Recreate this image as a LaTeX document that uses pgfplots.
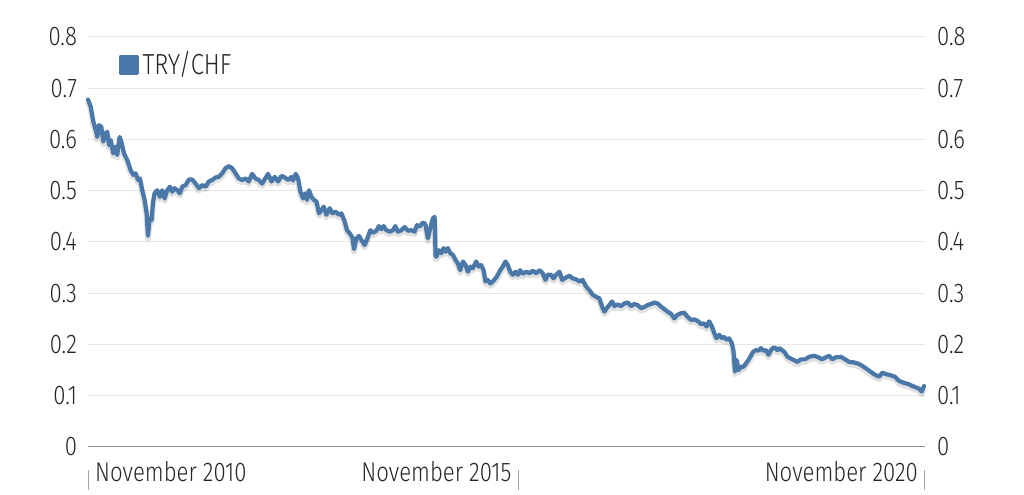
\documentclass[border=0pt]{standalone}
\usepackage{pgfplots}
\pgfplotsset{compat=1.18}
\usepackage{fontspec}
\setmainfont{Fira Sans}[UprightFont=* Light, FakeStretch=0.82]
\definecolor{trycol}{HTML}{4A78A9}
\definecolor{gridc}{HTML}{E6E6E6}
\definecolor{txt}{HTML}{262626}
\newcommand{\tickbar}{{\color{black!35}\rule[-4.5pt]{0.6pt}{10pt}}}
\begin{document}
\begin{tikzpicture}
\begin{axis}[
  scale only axis,
  width=418.5pt, height=205pt,
  xmin=0, xmax=838, ymin=0, ymax=0.8,
  axis x line*=bottom, axis y line*=left,
  x axis line style={draw=black!45, line width=0.5pt},
  y axis line style={draw=none},
  ytick={0,0.1,...,0.8},
  ymajorgrids, grid style={draw=gridc, line width=0.5pt},
  major tick length=0pt,
  xtick={0,432,838},
  xticklabels={\rlap{\tickbar\hspace{3pt}November 2010},\llap{November 2015\hspace{3.5pt}\tickbar},\llap{November 2020\hspace{3pt}\tickbar}},
  xticklabel style={anchor=north, inner sep=0pt, yshift=-7pt, text=txt, font=\fontsize{13.5}{15}\selectfont},
  yticklabel style={text=txt, font=\fontsize{13.5}{15}\selectfont, xshift=-2pt},
  /pgf/number format/.cd, fixed, precision=1, assume math mode=true,
  /pgfplots/.cd,
  legend style={at={(rel axis cs:0.036,0.975)}, anchor=north west, draw=none, fill=none, font=\fontsize{14.5}{16}\selectfont, text=txt, inner sep=0pt},
  legend image code/.code={\fill[trycol] (0pt,-4pt) rectangle (8pt,4pt);},
  clip=false,
]
\pgfplotstableread{
x y
0 0.678
2.7 0.664
5.3 0.635
7.7 0.619
9.3 0.605
11 0.628
13.3 0.625
15.3 0.596
17.7 0.612
19.3 0.615
21 0.589
22.7 0.599
25.3 0.573
27.7 0.586
29.3 0.570
31.7 0.605
33.7 0.593
36 0.573
39.3 0.560
42.7 0.540
45.3 0.531
47.7 0.534
50 0.521
52 0.524
54.3 0.501
56.7 0.482
58.7 0.456
60 0.412
61.7 0.446
63.7 0.443
65 0.476
66.7 0.495
69.3 0.501
72 0.488
74.3 0.501
76.7 0.485
79.3 0.501
82 0.508
84.3 0.498
86.7 0.505
89.3 0.501
92 0.495
94.3 0.508
97.7 0.511
101 0.522
104.3 0.522
107.7 0.514
111 0.505
114.3 0.511
117.7 0.508
121 0.518
124.3 0.521
127.7 0.526
131 0.527
134.3 0.534
137.7 0.544
141 0.548
144.3 0.544
147.7 0.534
151 0.524
154.3 0.521
157.7 0.524
161 0.518
164.3 0.533
167.7 0.524
171 0.521
174.3 0.514
180.3 0.533
183.7 0.518
187 0.527
190.3 0.518
193.7 0.529
197 0.526
200.3 0.521
203.7 0.527
205.3 0.520
208 0.533
210.3 0.524
212.7 0.498
215.3 0.485
217.7 0.495
219.3 0.482
221.3 0.501
223.7 0.488
226.3 0.482
228.7 0.479
231.3 0.456
233.7 0.462
236 0.469
238.7 0.453
242 0.466
244.7 0.456
248 0.459
251.3 0.453
253.7 0.456
257 0.440
259.3 0.423
262 0.417
264.7 0.409
266.3 0.386
268.7 0.407
271.3 0.412
273.7 0.404
277 0.394
280.3 0.410
282.7 0.423
285.3 0.418
288.7 0.422
291.3 0.431
293.7 0.425
296 0.431
298.7 0.423
302 0.420
305.3 0.423
307.7 0.431
310.3 0.420
313.7 0.423
317 0.429
320.3 0.422
323.7 0.423
327 0.420
329.3 0.433
332 0.430
335.3 0.438
337.7 0.435
340.3 0.407
342.7 0.427
345.3 0.446
347 0.449
348 0.373
348.7 0.371
351.3 0.384
353.7 0.378
356 0.388
358 0.381
360.3 0.388
362.7 0.378
365.3 0.375
368 0.365
370.3 0.358
372.7 0.345
375.3 0.362
378 0.355
380.3 0.342
383 0.352
385.3 0.349
388.7 0.362
391.3 0.352
393.7 0.355
396 0.345
398 0.323
400.3 0.326
402.7 0.319
405.3 0.323
408 0.329
410.3 0.336
412.7 0.345
415.3 0.352
418 0.362
420.3 0.355
422.7 0.342
425.3 0.336
428 0.342
430.3 0.336
432.7 0.345
435.3 0.338
438.7 0.342
442 0.339
445.3 0.344
448.7 0.339
452 0.345
455.3 0.339
458 0.326
460.3 0.336
463.7 0.336
466 0.329
468.7 0.336
472 0.342
474.7 0.326
478.7 0.331
482 0.334
485.3 0.329
488.7 0.327
492 0.323
495.3 0.326
498.7 0.313
502 0.306
505.3 0.297
508.7 0.293
512 0.290
514.7 0.274
517 0.264
519.3 0.271
522 0.277
524.7 0.284
527 0.275
530.3 0.278
533.7 0.275
537 0.280
540.3 0.282
543.7 0.275
547 0.279
550.3 0.277
553.7 0.271
557 0.273
560.3 0.277
563.7 0.279
567 0.282
570.3 0.280
573.7 0.274
577 0.269
580.3 0.264
583.7 0.260
587 0.251
590.3 0.258
593.7 0.261
597 0.262
600.3 0.254
603.7 0.248
607 0.249
610.3 0.246
613.7 0.240
617 0.241
619.3 0.235
622 0.245
624.7 0.235
627 0.222
629.3 0.212
632 0.219
634.7 0.212
637 0.215
639.3 0.209
642 0.212
644.7 0.202
646.3 0.186
647.7 0.147
649.3 0.170
651.3 0.150
653.7 0.157
656 0.156
658.7 0.163
661.3 0.170
663.7 0.178
666 0.186
668.7 0.189
671.3 0.188
673.7 0.193
676 0.188
678.7 0.189
681.3 0.180
683.7 0.189
687 0.195
690.3 0.189
692 0.193
697 0.186
700.3 0.176
705.3 0.171
710.3 0.166
713.7 0.171
718 0.171
722 0.176
727 0.178
731.3 0.175
734.7 0.171
738.7 0.175
742 0.178
745.3 0.171
748.7 0.175
753.7 0.176
758 0.171
762 0.166
767 0.165
772 0.162
777 0.156
782 0.149
787 0.142
792 0.137
795.3 0.145
799.3 0.142
803.7 0.140
808 0.137
812 0.129
817 0.125
821.3 0.123
825.3 0.119
829.3 0.116
832.7 0.113
834.7 0.108
837 0.119
}\trydata
\addplot[forget plot, draw=black, opacity=0.12, line width=3pt, line join=round, transform canvas={yshift=-1.2pt}] table[x=x,y=y] {\trydata};
\addplot[draw=trycol, line width=2.1pt, line join=round, line cap=round] table[x=x,y=y] {\trydata};
\addlegendentry{TRY/CHF}
\end{axis}
\begin{axis}[
  scale only axis,
  width=418.5pt, height=205pt,
  xmin=0, xmax=838, ymin=0, ymax=0.8,
  axis x line=none,
  axis y line*=right,
  y axis line style={draw=none},
  ytick={0,0.1,...,0.8},
  major tick length=0pt,
  yticklabel style={text=txt, font=\fontsize{13.5}{15}\selectfont, xshift=2.5pt},
  /pgf/number format/.cd, fixed, precision=1, assume math mode=true,
]
\end{axis}
\pgfresetboundingbox
\path[use as bounding box] ([shift={(-44pt,-24pt)}]current axis.south west) rectangle ([shift={(49.5pt,18.5pt)}]current axis.north east);
\end{tikzpicture}
\end{document}
